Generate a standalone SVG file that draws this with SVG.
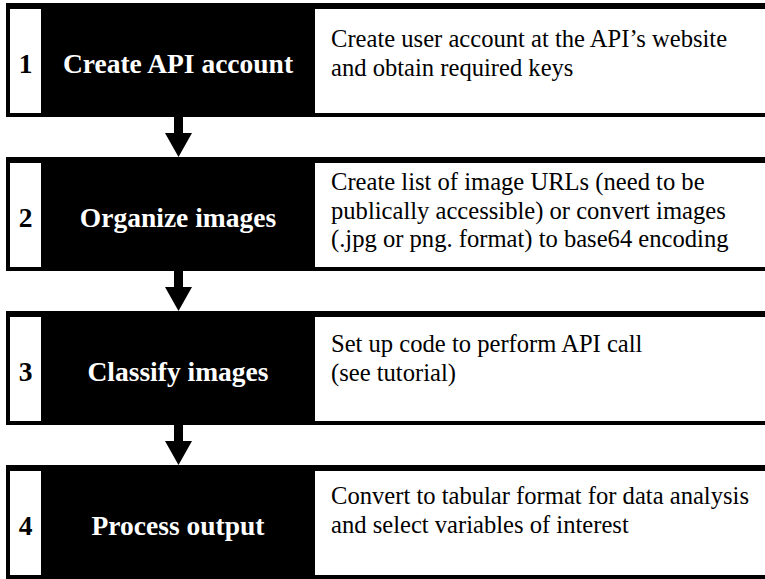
<svg xmlns="http://www.w3.org/2000/svg" width="765" height="579" viewBox="0 0 765 579">
<style>
text{font-family:"Liberation Serif","Times New Roman",serif}
.frame{fill:#000}
.cell{fill:#fff}
.num{font-weight:bold;font-size:27.5px;fill:#000;text-anchor:middle}
.title{font-weight:bold;font-size:27.5px;fill:#fff;text-anchor:middle}
.desc{font-size:24.6px;fill:#000}
.arrow{fill:#000}
</style>
<rect width="765" height="579" fill="#fff"/>
<g id="step1">
<rect class="frame" x="6" y="3" width="759" height="114"/>
<rect class="cell" x="10" y="9" width="31" height="104"/>
<rect class="cell" x="315" y="9" width="450" height="104"/>
<text class="num" x="25.5" y="73">1</text>
<text class="title" x="178" y="73">Create API account</text>
<text class="desc" x="331" y="47">Create user account at the API’s website</text>
<text class="desc" x="331" y="75.5">and obtain required keys</text>
</g>
<g id="step2">
<rect class="frame" x="6" y="157" width="759" height="114"/>
<rect class="cell" x="10" y="163" width="31" height="104"/>
<rect class="cell" x="315" y="163" width="450" height="104"/>
<text class="num" x="25.5" y="227">2</text>
<text class="title" x="178" y="227">Organize images</text>
<text class="desc" x="331" y="190">Create list of image URLs (need to be</text>
<text class="desc" x="331" y="218.5">publically accessible) or convert images</text>
<text class="desc" x="331" y="247">(.jpg or png. format) to base64 encoding</text>
</g>
<g id="step3">
<rect class="frame" x="6" y="311" width="759" height="114"/>
<rect class="cell" x="10" y="317" width="31" height="104"/>
<rect class="cell" x="315" y="317" width="450" height="104"/>
<text class="num" x="25.5" y="381">3</text>
<text class="title" x="178" y="381">Classify images</text>
<text class="desc" x="331" y="352">Set up code to perform API call</text>
<text class="desc" x="331" y="380.5">(see tutorial)</text>
</g>
<g id="step4">
<rect class="frame" x="6" y="465" width="759" height="114"/>
<rect class="cell" x="10" y="471" width="31" height="104"/>
<rect class="cell" x="315" y="471" width="450" height="104"/>
<text class="num" x="25.5" y="535">4</text>
<text class="title" x="178" y="535">Process output</text>
<text class="desc" x="331" y="504">Convert to tabular format for data analysis</text>
<text class="desc" x="331" y="532.5">and select variables of interest</text>
</g>
<g id="connectors">
<polygon class="arrow" points="174,117 183,117 183,133 192,133 178.5,157 165,133 174,133"/>
<polygon class="arrow" points="174,271 183,271 183,287 192,287 178.5,311 165,287 174,287"/>
<polygon class="arrow" points="174,425 183,425 183,441 192,441 178.5,465 165,441 174,441"/>
</g>
</svg>
